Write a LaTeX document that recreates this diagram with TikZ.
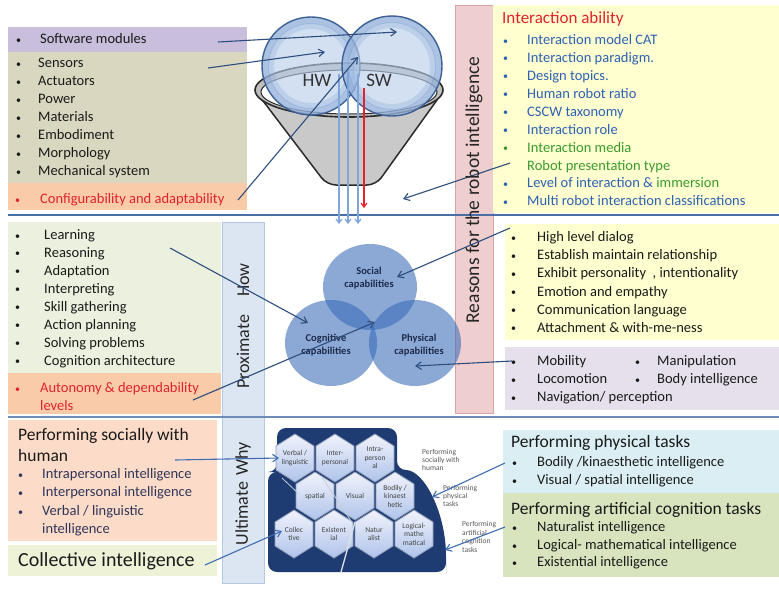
\documentclass[tikz,border=0pt]{standalone}
\usepackage{fontspec}
\setmainfont{Carlito}
\usetikzlibrary{arrows.meta}

\definecolor{swpurple}{HTML}{C9BEDC}
\definecolor{hwkhaki}{HTML}{D9D7BF}
\definecolor{peach}{HTML}{F9CBA8}
\definecolor{peachlt}{HTML}{FCDCC8}
\definecolor{cogreen}{HTML}{EBF1DE}
\definecolor{ylw}{HTML}{FFFFCF}
\definecolor{lilac}{HTML}{E5E0EC}
\definecolor{collgreen}{HTML}{EEF3D8}
\definecolor{physblue}{HTML}{DAEEF3}
\definecolor{artgreen}{HTML}{D7E4BD}
\definecolor{barblue}{HTML}{DCE6F2}
\definecolor{barblueedge}{HTML}{B4C8E2}
\definecolor{barpink}{HTML}{EECECE}
\definecolor{barpinkedge}{HTML}{D9A3A3}
\definecolor{sepblue}{HTML}{4A6FA5}
\definecolor{arrowc}{HTML}{2E4F7E}
\definecolor{arrowlt}{HTML}{3F6DB2}
\definecolor{txt}{HTML}{1A1A1A}
\definecolor{redtxt}{HTML}{E0232B}
\definecolor{bluetxt}{HTML}{2D62B5}
\definecolor{greentxt}{HTML}{3A9B2E}
\definecolor{navytxt}{HTML}{2F3559}
\definecolor{venn}{HTML}{3568B8}
\definecolor{vennlbl}{HTML}{1D2B4A}
\definecolor{hexpanel}{HTML}{1E3C72}
\definecolor{hextop}{HTML}{F1F3FC}
\definecolor{hexbot}{HTML}{AFC3EA}
\definecolor{hexedge}{HTML}{8D9CB8}
\definecolor{hextxt}{HTML}{444444}
\definecolor{funnelgrey}{HTML}{C9C9C9}
\definecolor{rimgrey}{HTML}{BFBFBF}
\definecolor{funneledge}{HTML}{2B2B2B}
\definecolor{sphereedge}{HTML}{3D6095}
\definecolor{spherefill}{HTML}{B7CDEB}
\definecolor{spherering}{HTML}{7C9ED0}
\definecolor{flowblue}{HTML}{7FA6DA}
\definecolor{flowred}{HTML}{E4222B}

% one honeycomb cell: name, centre x, centre y, label
\newcommand\hexcell[4]{%
  \shadedraw[top color=hextop, bottom color=hexbot, draw=hexedge, line width=0.8pt]
    (#2,#3-24) -- (#2+19,#3-12) -- (#2+19,#3+12) -- (#2,#3+24)
    -- (#2-19,#3+12) -- (#2-19,#3-12) -- cycle;
  \node[hexlbl] (#1) at (#2,#3) {#4};}

% translucent glass sphere: centre x, centre y, radius
\newcommand\glassball[3]{%
  \fill[spherefill, fill opacity=0.62] (#1,#2) circle [radius=#3];
  \draw[spherering, draw opacity=0.45, line width=7pt] (#1,#2) circle [radius=#3-3.5];
  \draw[spherering, draw opacity=0.25, line width=6pt] (#1,#2) circle [radius=#3-9];
  \draw[sphereedge, line width=1.4pt] (#1,#2) circle [radius=#3];}

\begin{document}
\begin{tikzpicture}[x=1pt,y=-1pt,
  itm/.style={anchor=west, inner sep=0pt, text height=10.5pt, text depth=3pt,
              font=\fontsize{14.5}{17}\selectfont, text=txt},
  bul/.style={anchor=west, inner sep=0pt, text height=6pt, text depth=0pt,
              font=\fontsize{10}{10}\selectfont, text=txt},
  ttl/.style={anchor=west, inner sep=0pt, align=left,
              font=\fontsize{17.5}{20}\selectfont, text=txt},
  arr/.style={draw=arrowc, line width=1.1pt,
              -{Straight Barb[length=5.5pt,width=7.5pt,line width=1.1pt]}},
  arrlt/.style={draw=arrowlt, line width=1.1pt,
              -{Straight Barb[length=5.5pt,width=7.5pt,line width=1.1pt]}},
  flow/.style={draw=flowblue, line width=1.4pt,
              -{Straight Barb[length=4pt,width=6pt,line width=1.2pt]}},
  flowr/.style={draw=flowred, line width=1.4pt,
              -{Straight Barb[length=4pt,width=6pt,line width=1.2pt]}},
  vert/.style={rotate=90, inner sep=0pt, font=\fontsize{18}{20}\selectfont, text=black!85},
  vennc/.style={fill=venn, fill opacity=0.57},
  vlbl/.style={align=center, font=\fontsize{10.5}{12.5}\selectfont\bfseries, text=vennlbl, inner sep=0pt},
  hexlbl/.style={align=center, font=\fontsize{7.5}{8.5}\selectfont, text=hextxt, inner sep=0pt},
  small/.style={anchor=west, align=left, font=\fontsize{7.5}{8.4}\selectfont, text=black!65, inner sep=0pt},
]
\useasboundingbox (0,0) rectangle (779,590);
\fill[white] (0,0) rectangle (779,590);

%% ---------------- panels ----------------
\fill[swpurple] (8,27) rectangle (247,52);
\fill[hwkhaki] (8,52) rectangle (247,183);
\fill[peach] (8,183) rectangle (247,210);

\filldraw[fill=barpink, draw=barpinkedge] (455,5) rectangle (493,413);
\fill[ylw] (493,5) rectangle (779,213);

\fill[cogreen] (8,222) rectangle (221,373);
\fill[peach] (8,373) rectangle (221,414);
\filldraw[fill=barblue, draw=barblueedge] (222,222) rectangle (264,583);

\fill[ylw] (505,224) rectangle (779,340);
\fill[lilac] (505,347) rectangle (779,410);

\fill[peachlt] (8,420) rectangle (217,541);
\fill[collgreen] (8,545) rectangle (217,576);
\fill[physblue] (503,430) rectangle (779,493);
\fill[artgreen] (503,493) rectangle (779,577);

\draw[sepblue, line width=2pt] (8,215) -- (779,215);
\draw[sepblue!80!white, line width=1.8pt] (8,417) -- (779,417);

%% ---------------- funnel with HW / SW spheres ----------------
\filldraw[fill=funnelgrey, draw=funneledge, line width=1.5pt, rounded corners=9pt]
  (257,93) -- (327,185) -- (376,185) -- (442,93) -- cycle;
\filldraw[fill=rimgrey, draw=funneledge, line width=1.6pt] (349,90) ellipse [x radius=94, y radius=27];
\filldraw[fill=white, draw=funneledge, line width=1pt] (349,92) ellipse [x radius=88, y radius=22];

\glassball{311}{66}{49}
\glassball{392}{66}{50}

\node[font=\fontsize{19}{22}\selectfont, text=black!80, inner sep=0pt] (hw) at (317,80) {HW};
\node[font=\fontsize{19}{22}\selectfont, text=black!80, inner sep=0pt] (sw) at (379,80) {SW};

\coordinate (fa1) at (339,74);  \coordinate (fb1) at (339,224);
\coordinate (fa2) at (348,70);  \coordinate (fb2) at (348,224);
\coordinate (fa3) at (358,74);  \coordinate (fb3) at (358,224);
\coordinate (ra)  at (364,88);  \coordinate (rb)  at (364,208);
\draw[flow] (fa1) -- (fb1);
\draw[flow] (fa2) -- (fb2);
\draw[flow] (fa3) -- (fb3);
\draw[flowr] (ra) -- (rb);

%% ---------------- top left: hardware / software ----------------
\node[bul] (swb) at (16,40) {\textbullet};
\node[itm] (swmod) at (40,40) {Software modules};
\foreach \t [count=\i] in {Sensors,Actuators,Power,Materials,Embodiment,Morphology,Mechanical system}{
  \node[bul] (hwb\i) at (16,{64+(\i-1)*18}) {\textbullet};
  \node[itm] (hwi\i) at (38,{64+(\i-1)*18}) {\t};
}
\node[bul, text=redtxt] (cfb) at (15,200) {\textbullet};
\node[itm, text=redtxt] (config) at (40,200) {Configurability and adaptability};

\coordinate (a1s) at (218,42);  \coordinate (a1e) at (397,32);
\coordinate (a2s) at (208,68);  \coordinate (a2e) at (325,52);
\coordinate (a3s) at (238,200); \coordinate (a3e) at (358,57);
\draw[arr] (a1s) -- (a1e);
\draw[arr] (a2s) -- (a2e);
\draw[arr] (a3s) -- (a3e);

%% ---------------- top right: interaction ability ----------------
\node[itm, text=redtxt, font=\fontsize{17}{20}\selectfont] (iatitle) at (502,20) {Interaction ability};
\foreach \c/\t [count=\i] in {bluetxt/Interaction model CAT, bluetxt/Interaction paradigm.,
    bluetxt/Design topics., bluetxt/Human robot ratio, bluetxt/CSCW taxonomy,
    bluetxt/Interaction role, greentxt/Interaction media, greentxt/Robot presentation type,
    bluetxt/Level of interaction \& \textcolor{greentxt}{immersion},
    bluetxt/Multi robot interaction classifications}{
  \node[itm, text=\c] (ia\i) at (527,{41+(\i-1)*17.9}) {\t};
}
\foreach \c/\i in {bluetxt/1,bluetxt/2,bluetxt/3,bluetxt/4,bluetxt/5,bluetxt/6,greentxt/7,bluetxt/9,bluetxt/10}{
  \node[bul, text=\c] (iab\i) at (503,{41+(\i-1)*17.9}) {\textbullet};
}
\coordinate (a4s) at (510,163); \coordinate (a4e) at (403,199);
\draw[arr] (a4s) -- (a4e);

\node[vert, font=\fontsize{19.5}{22}\selectfont] (reasons) at (474,190) {Reasons for the robot intelligence};

%% ---------------- middle: capabilities ----------------
\foreach \t [count=\i] in {Learning,Reasoning,Adaptation,Interpreting,Skill gathering,
    Action planning,Solving problems,Cognition architecture}{
  \node[bul] (cgb\i) at (15,{236+(\i-1)*17.9}) {\textbullet};
  \node[itm] (cgi\i) at (44,{236+(\i-1)*17.9}) {\t};
}
\node[bul, text=redtxt] (aub) at (15,389) {\textbullet};
\node[itm, text=redtxt] (auto1) at (40,389) {Autonomy \& dependability};
\node[itm, text=redtxt] (auto2) at (40,407) {levels};

\node[vert] (prox) at (243,326) {Proximate\hspace{18pt}How};
\node[vert] (ult) at (243,494) {Ultimate\hspace{6pt}Why};

\fill[vennc] (370,287) ellipse [x radius=47, y radius=43];
\fill[vennc] (331,343) ellipse [x radius=46, y radius=43];
\fill[vennc] (415,343) ellipse [x radius=46, y radius=43];
\node[vlbl] (social) at (369,278) {Social\\capabilities};
\node[vlbl] (cognitive) at (326,345) {Cognitive\\capabilities};
\node[vlbl] (physical) at (419,345) {Physical\\capabilities};

\foreach \t [count=\i] in {High level dialog, Establish maintain relationship,
    {Exhibit personality\ \ , intentionality}, Emotion and empathy,
    Communication language, Attachment \& with-me-ness}{
  \node[bul] (scb\i) at (511,{238+(\i-1)*18.1}) {\textbullet};
  \node[itm] (sci\i) at (537,{238+(\i-1)*18.1}) {\t};
}
\node[bul] (phb1) at (511,362) {\textbullet};
\node[itm] (ph1) at (537,362) {Mobility};
\node[bul] (phb2) at (635,362) {\textbullet};
\node[itm] (ph2) at (657,362) {Manipulation};
\node[bul] (phb3) at (511,380) {\textbullet};
\node[itm] (ph3) at (537,380) {Locomotion};
\node[bul] (phb4) at (635,380) {\textbullet};
\node[itm] (ph4) at (657,380) {Body intelligence};
\node[bul] (phb5) at (511,398) {\textbullet};
\node[itm] (ph5) at (537,398) {Navigation/ perception};

\coordinate (a5s) at (170,248); \coordinate (a5e) at (308,323);
\coordinate (a6s) at (193,400); \coordinate (a6e) at (375,322);
\coordinate (a7s) at (510,228); \coordinate (a7e) at (397,277);
\coordinate (a8s) at (512,361); \coordinate (a8e) at (415,366);
\draw[arr] (a5s) -- (a5e);
\draw[arr] (a6s) -- (a6e);
\draw[arr] (a7s) -- (a7e);
\draw[arr] (a8s) -- (a8e);

%% ---------------- bottom: multiple intelligences ----------------
\node[ttl] (soc1) at (18,436) {Performing socially with};
\node[ttl] (soc2) at (18,455) {human};
\node[bul, text=navytxt] (sob1) at (18,475) {\textbullet};
\node[itm, text=navytxt] (soi1) at (42,475) {Intrapersonal intelligence};
\node[bul, text=navytxt] (sob2) at (18,493) {\textbullet};
\node[itm, text=navytxt] (soi2) at (42,493) {Interpersonal intelligence};
\node[bul, text=navytxt] (sob3) at (18,512) {\textbullet};
\node[itm, text=navytxt] (soi3) at (42,512) {Verbal / linguistic};
\node[itm, text=navytxt] (soi4) at (42,530) {intelligence};
\node[ttl, font=\fontsize{20}{22}\selectfont] (coll) at (18,561) {Collective intelligence};

\node[ttl] (pt1) at (511,443) {Performing physical tasks};
\node[bul] (ptb1) at (512,463) {\textbullet};
\node[itm] (pti1) at (537,463) {Bodily /kinaesthetic intelligence};
\node[bul] (ptb2) at (512,481) {\textbullet};
\node[itm] (pti2) at (537,481) {Visual / spatial intelligence};
\node[ttl] (ac1) at (511,510) {Performing artificial cognition tasks};
\node[bul] (acb1) at (512,528) {\textbullet};
\node[itm] (aci1) at (537,528) {Naturalist intelligence};
\node[bul] (acb2) at (512,546) {\textbullet};
\node[itm] (aci2) at (537,546) {Logical- mathematical intelligence};
\node[bul] (acb3) at (512,563) {\textbullet};
\node[itm] (aci3) at (537,563) {Existential intelligence};

% dark honeycomb backdrop
\fill[hexpanel, rounded corners=9pt]
  (268,572) -- (268,472) -- (277,472) -- (277,428) -- (397,428) -- (397,470)
  .. controls (424,470) and (446,513) .. (446,565) -- (446,572) -- cycle;

\hexcell{hxverbal}{295}{458}{Verbal /\\linguistic}
\hexcell{hxinter}{335}{458}{Inter-\\personal}
\hexcell{hxintra}{375}{458}{Intra-\\person\\al}
\hexcell{hxspatial}{315}{496}{spatial}
\hexcell{hxvisual}{355}{496}{Visual}
\hexcell{hxbodily}{395}{496}{Bodily /\\kinaest\\hetic}
\hexcell{hxcollec}{294}{534}{Collec\\tive}
\hexcell{hxexist}{334}{534}{Existent\\ial}
\hexcell{hxnatur}{374}{534}{Natur\\alist}
\hexcell{hxlogic}{414}{534}{Logical-\\mathe\\matical}

\draw[hexedge!50!white, line width=0.8pt] (282,478) -- (299,494);
\draw[hexedge!50!white, line width=0.8pt] (322,477) -- (351,521);
\draw[white!85!hexpanel, line width=1.3pt] (341,572) -- (355,522);

\node[small] (lblsoc) at (422,460) {Performing\\socially with\\human};
\node[small] (lblphy) at (443,496) {Performing\\physical\\tasks};
\node[small] (lblart) at (462,537) {Performing\\artificial\\cognition\\tasks};

\coordinate (b1s) at (175,460); \coordinate (b1e) at (279,458);
\coordinate (b2s) at (205,565); \coordinate (b2e) at (282,531);
\coordinate (b3s) at (505,463); \coordinate (b3e) at (432,497);
\coordinate (b4s) at (505,527); \coordinate (b4e) at (445,550);
\draw[arrlt] (b1s) -- (b1e);
\draw[arrlt] (b2s) -- (b2e);
\draw[arrlt] (b3s) -- (b3e);
\draw[arrlt] (b4s) -- (b4e);
\end{tikzpicture}
\end{document}
